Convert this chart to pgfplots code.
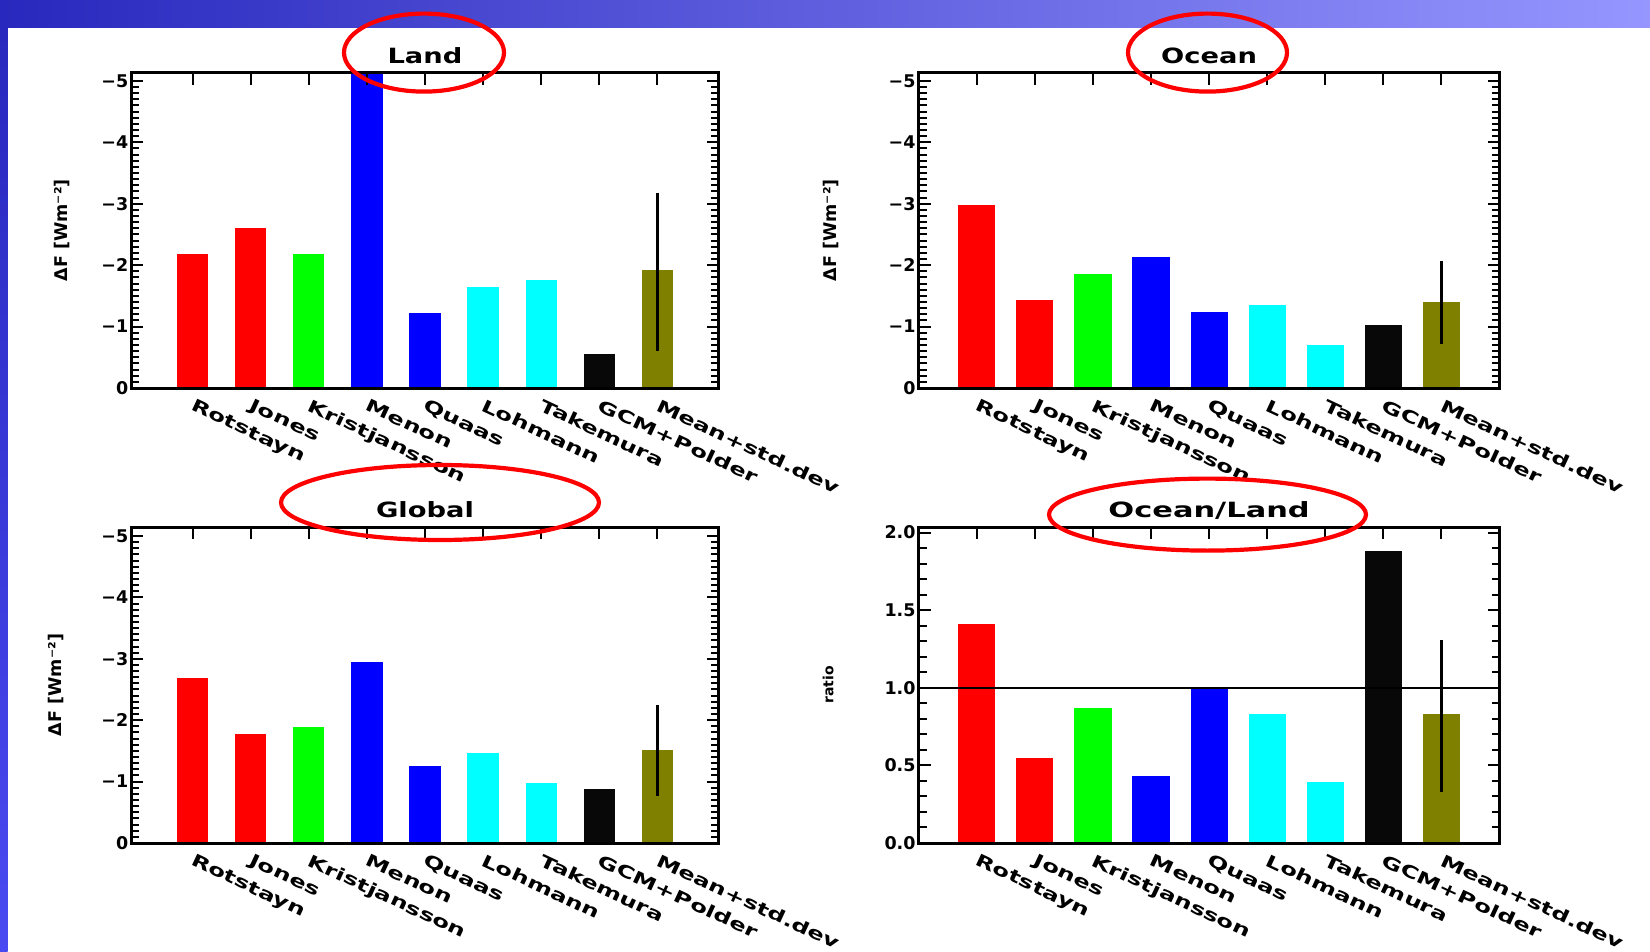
\documentclass[border=0pt]{standalone}
\usepackage{fontspec}
\setmainfont{DejaVu Sans}
\newfontfamily\lblfont{DejaVu Sans}[FakeStretch=1.3]
\newfontfamily\xfont{DejaVu Sans}[FakeStretch=1.45]
\usepackage{pgfplots}
\pgfplotsset{compat=1.18}
\definecolor{olivebar}{RGB}{128,128,0}
\definecolor{blk}{RGB}{8,8,8}
\definecolor{cyanbar}{RGB}{0,255,255}
\definecolor{redbar}{RGB}{255,0,0}
\definecolor{greenbar}{RGB}{0,255,0}
\definecolor{bluebar}{RGB}{0,0,255}
\definecolor{slideA}{RGB}{40,40,190}
\definecolor{slideB}{RGB}{74,74,242}
\definecolor{slideC}{RGB}{150,150,255}
\pgfplotsset{
  panel/.style={
    scale only axis,
    axis on top=true,
    y dir=reverse,
    xtick={1,...,9},
    xtick pos=upper, xticklabel pos=lower,
    ytick pos=both, yticklabel pos=left,
    xticklabels={Rotstayn,Jones,Kristjansson,Menon,Quaas,Lohmann,Takemura,GCM+Polder,Mean+std.dev},
    xticklabel style={rotate=-25, anchor=north west, inner sep=0pt, yshift=-8pt, xshift=7pt,
      font=\xfont\bfseries\fontsize{17}{17}\selectfont},
    yticklabel style={font=\bfseries\fontsize{17.5}{17.5}\selectfont, inner sep=3pt},
    axis line style={line width=3pt, black},
    tick style={black, line width=2pt},
    major tick length=12pt, minor tick length=8pt,
    tick align=inside,
    title style={at={(axis description cs:0.5,1)}, anchor=base, yshift=3.5pt, inner sep=0pt,
      font=\lblfont\bfseries\fontsize{21}{21}\selectfont},
    ylabel style={anchor=center, font=\bfseries\fontsize{17.5}{17.5}\selectfont},
  },
  wpanel/.style={panel, ytick={-5,-4,-3,-2,-1,0}, yticklabels={−5,−4,−3,−2,−1,0}, minor y tick num=9, ymax=0},
  mybar/.style 2 args={ybar, bar width=#2, bar shift=0pt, draw=none, fill=#1},
  errbar/.style={black, line width=3.5pt, no marks},
}
\begin{document}
\begin{tikzpicture}
\useasboundingbox (0,0) rectangle (1650pt,-952pt);
\fill[white] (0,0) rectangle (1650pt,-952pt);
\shade[left color=slideA, middle color=slideB, right color=slideC] (0,0) rectangle (1650pt,-28pt);
\shade[top color=slideA, bottom color=slideB] (0,-28pt) rectangle (7.5pt,-952pt);

% ---------------- Land ----------------
\begin{axis}[wpanel, at={(131.5pt,-72.6pt)}, anchor=north west,
  width=587pt, height=315.4pt, xmin=-0.05, xmax=10.05, ymin=-5.135,
  title={Land}, ylabel={ΔF [Wm⁻²]},
  ylabel style={at={(axis description cs:-0.118,0.5)}}]
\addplot[mybar={redbar}{0.54}] coordinates {(1,-2.18)};
\addplot[mybar={redbar}{0.54}] coordinates {(2,-2.61)};
\addplot[mybar={greenbar}{0.54}] coordinates {(3,-2.18)};
\addplot[mybar={bluebar}{0.54}] coordinates {(4,-5.40)};
\addplot[mybar={bluebar}{0.54}] coordinates {(5,-1.22)};
\addplot[mybar={cyanbar}{0.54}] coordinates {(6,-1.65)};
\addplot[mybar={cyanbar}{0.54}] coordinates {(7,-1.76)};
\addplot[mybar={blk}{0.54}] coordinates {(8,-0.55)};
\addplot[mybar={olivebar}{0.54}] coordinates {(9,-1.92)};
\addplot[errbar] coordinates {(9,-3.18) (9,-0.60)};
\end{axis}

% ---------------- Ocean ----------------
\begin{axis}[wpanel, at={(918.7pt,-72.6pt)}, anchor=north west,
  width=580.8pt, height=315.4pt, xmin=0, xmax=10, ymin=-5.135,
  title={Ocean}, ylabel={ΔF [Wm⁻²]},
  ylabel style={at={(axis description cs:-0.151,0.5)}}]
\addplot[mybar={redbar}{0.64}] coordinates {(1,-2.98)};
\addplot[mybar={redbar}{0.64}] coordinates {(2,-1.44)};
\addplot[mybar={greenbar}{0.64}] coordinates {(3,-1.86)};
\addplot[mybar={bluebar}{0.64}] coordinates {(4,-2.14)};
\addplot[mybar={bluebar}{0.64}] coordinates {(5,-1.23)};
\addplot[mybar={cyanbar}{0.64}] coordinates {(6,-1.35)};
\addplot[mybar={cyanbar}{0.64}] coordinates {(7,-0.70)};
\addplot[mybar={blk}{0.64}] coordinates {(8,-1.02)};
\addplot[mybar={olivebar}{0.64}] coordinates {(9,-1.40)};
\addplot[errbar] coordinates {(9,-2.07) (9,-0.71)};
\end{axis}

% ---------------- Global ----------------
\begin{axis}[wpanel, at={(131.5pt,-527pt)}, anchor=north west,
  width=587pt, height=316pt, xmin=-0.05, xmax=10.05, ymin=-5.146,
  title={Global}, ylabel={ΔF [Wm⁻²]},
  ylabel style={at={(axis description cs:-0.129,0.5)}}]
\addplot[mybar={redbar}{0.54}] coordinates {(1,-2.68)};
\addplot[mybar={redbar}{0.54}] coordinates {(2,-1.77)};
\addplot[mybar={greenbar}{0.54}] coordinates {(3,-1.89)};
\addplot[mybar={bluebar}{0.54}] coordinates {(4,-2.94)};
\addplot[mybar={bluebar}{0.54}] coordinates {(5,-1.25)};
\addplot[mybar={cyanbar}{0.54}] coordinates {(6,-1.46)};
\addplot[mybar={cyanbar}{0.54}] coordinates {(7,-0.98)};
\addplot[mybar={blk}{0.54}] coordinates {(8,-0.88)};
\addplot[mybar={olivebar}{0.54}] coordinates {(9,-1.51)};
\addplot[errbar] coordinates {(9,-2.25) (9,-0.77)};
\end{axis}

% ---------------- Ocean/Land ----------------
\begin{axis}[panel, y dir=normal, at={(918.7pt,-527pt)}, anchor=north west,
  width=580.8pt, height=316pt, xmin=0, xmax=10, ymin=0, ymax=2.036,
  ytick={0,0.5,1,1.5,2}, yticklabels={0.0,0.5,1.0,1.5,2.0}, minor y tick num=4,
  title={Ocean/Land}, ylabel={ratio},
  title style={font=\xfont\bfseries\fontsize{21}{21}\selectfont},
  ylabel style={at={(axis description cs:-0.156,0.5)}, font=\bfseries\fontsize{14}{14}\selectfont}]
\addplot[mybar={redbar}{0.64}] coordinates {(1,1.41)};
\addplot[mybar={redbar}{0.64}] coordinates {(2,0.55)};
\addplot[mybar={greenbar}{0.64}] coordinates {(3,0.87)};
\addplot[mybar={bluebar}{0.64}] coordinates {(4,0.43)};
\addplot[mybar={bluebar}{0.64}] coordinates {(5,1.00)};
\addplot[mybar={cyanbar}{0.64}] coordinates {(6,0.83)};
\addplot[mybar={cyanbar}{0.64}] coordinates {(7,0.39)};
\addplot[mybar={blk}{0.64}] coordinates {(8,1.88)};
\addplot[mybar={olivebar}{0.64}] coordinates {(9,0.83)};
\addplot[errbar] coordinates {(9,1.31) (9,0.33)};
\addplot[black, line width=2.5pt, no marks] coordinates {(0,1) (10,1)};
\end{axis}

% red annotation ellipses
\draw[red, line width=4.2pt] (424pt,-52.6pt) ellipse [x radius=80pt, y radius=39pt];
\draw[red, line width=4.2pt] (1207.5pt,-52.6pt) ellipse [x radius=79.5pt, y radius=39pt];
\draw[red, line width=4.2pt] (440pt,-502.5pt) ellipse [x radius=159pt, y radius=37.5pt];
\draw[red, line width=4.2pt] (1207.5pt,-514.6pt) ellipse [x radius=158.5pt, y radius=36pt];
\end{tikzpicture}
\end{document}
